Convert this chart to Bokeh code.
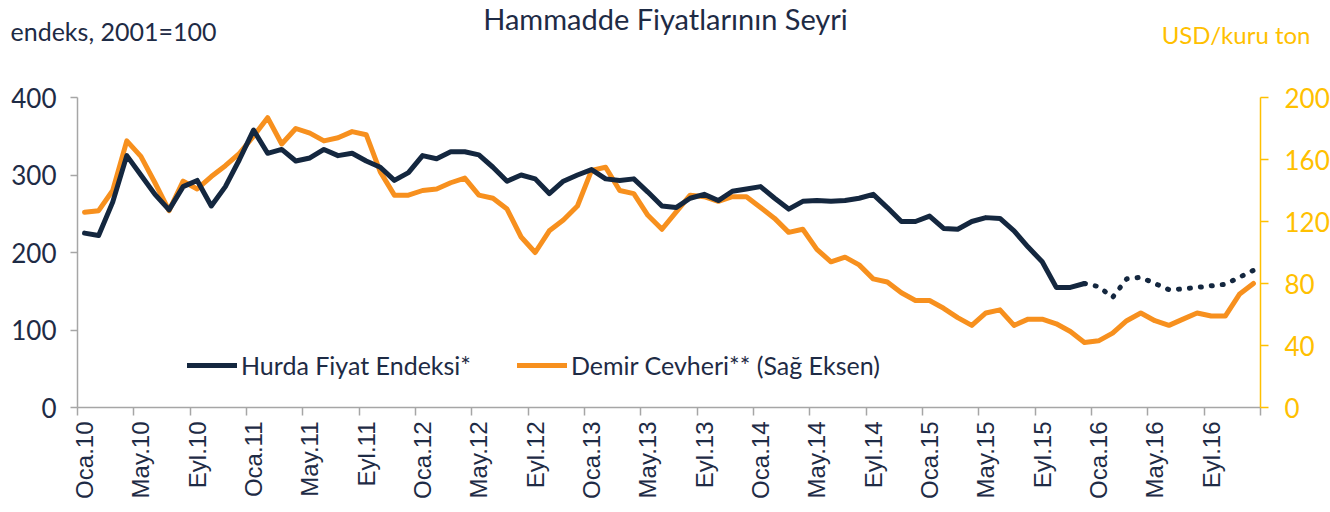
from bokeh.plotting import figure
from bokeh.models import (Range1d, LinearAxis, FixedTicker, Label, Legend, LegendItem,
                          ColumnDataSource)
from bokeh.embed import file_html
from bokeh.resources import INLINE
from math import pi

# ---------------- data ----------------
years = ["10", "11", "12", "13", "14", "15", "16"]
month_names = ["Oca", "Şub", "Mar", "Nis", "May", "Haz", "Tem", "Ağu", "Eyl", "Eki", "Kas", "Ara"]
tick_month_names = ["Oca", "May", "Eyl"]

# Hurda Fiyat Endeksi (left axis, 2001=100), monthly Jan 2010 - Dec 2016
hurda = [
    225, 222, 265, 325, 300, 275, 255, 285, 293, 260, 285, 320,
    358, 328, 333, 318, 322, 333, 325, 328, 318, 310, 293, 303,
    325, 321, 330, 330, 326, 310, 292, 300, 295, 276, 292, 300,
    307, 295, 293, 295, 278, 260, 258, 270, 275, 267, 279, 282,
    285, 270, 256, 266, 267, 266, 267, 270, 275, 258, 240, 240,
    247, 231, 230, 240, 245, 244, 228, 207, 188, 155, 155, 160,
    156, 142, 166, 168, 160, 152, 153, 155, 157, 159, 168, 177,
]
hurda_last_actual = 71  # index of last solid point; dotted afterwards

# Demir Cevheri (right axis, USD/kuru ton)
demir = [
    126, 127, 140, 172, 162, 145, 127, 146, 141, 149, 156, 164,
    175, 187, 170, 180, 177, 172, 174, 178, 176, 152, 137, 137,
    140, 141, 145, 148, 137, 135, 128, 110, 100, 114, 121, 130,
    153, 155, 140, 138, 124, 115, 126, 137, 136, 133, 136, 136,
    129, 122, 113, 115, 102, 94, 97, 92, 83, 81, 74, 69,
    69, 64, 58, 53, 61, 63, 53, 57, 57, 54, 49, 42,
    43, 48, 56, 61, 56, 53, 57, 61, 59, 59, 73, 80,
]

left_ticks = [0, 100, 200, 300, 400]
right_ticks = [0, 40, 80, 120, 160, 200]

# ---------------- styling ----------------
NAVY = "#14273F"
ORANGE = "#F7901E"
GOLD = "#FFC000"
TEXT = "#1E2B45"
GRAY = "#A6A6A6"
FONT = "Lato"

W, H = 1330, 512
# plot-area geometry (pixels) used to set the view ranges
AX_L, AX_R, AX_T, AX_B = 77, 1260, 97, 407

months = [f"{m}.{y}" for y in years for m in month_names]
n = len(months)
x = list(range(n))

ppm = (AX_R - AX_L) / n                 # pixels per month
x0 = AX_L + 0.5 * ppm                   # pixel of first month
xr = Range1d(-x0 / ppm, (W - x0) / ppm)
ppl = (AX_B - AX_T) / left_ticks[-1]
yr = Range1d(-(H - AX_B) / ppl, AX_B / ppl)
ppr = (AX_B - AX_T) / right_ticks[-1]
yr2 = Range1d(-(H - AX_B) / ppr, AX_B / ppr)

p = figure(width=W, height=H, output_backend="svg", toolbar_location=None,
           x_range=xr, y_range=yr, x_axis_location=None, y_axis_location=None,
           min_border=0)
p.extra_y_ranges = {"right": yr2}
p.outline_line_color = None
p.title.visible = False
p.background_fill_color = "white"
p.border_fill_color = "white"
p.xgrid.visible = False
p.ygrid.visible = False

# x axis
xt_pos = [i for i, m in enumerate(months) if m.split(".")[0] in tick_month_names]
xax = LinearAxis(fixed_location=0, bounds=(-0.5, n - 0.5),
                 ticker=FixedTicker(ticks=xt_pos, minor_ticks=[i - 0.5 for i in range(0, n + 1, 4)]))
xax.major_label_overrides = {i: months[i] for i in xt_pos}
xax.major_label_orientation = pi / 2
xax.major_tick_out = 0
xax.major_tick_in = 0
xax.minor_tick_out = 8
xax.minor_tick_in = 0
xax.minor_tick_line_color = GRAY
xax.minor_tick_line_width = 1.5
xax.axis_line_color = GRAY
xax.axis_line_width = 1.5
xax.major_label_text_font = "Liberation Sans"
xax.major_label_text_font_size = "24px"
xax.major_label_text_color = TEXT
xax.major_label_standoff = 6
p.add_layout(xax, "below")

# left axis
yax = LinearAxis(fixed_location=-0.5, bounds=(0, left_ticks[-1]), ticker=FixedTicker(ticks=left_ticks))
yax.minor_tick_line_color = None
yax.major_tick_out = 7
yax.major_tick_in = 0
yax.major_tick_line_color = GRAY
yax.major_tick_line_width = 1.5
yax.axis_line_color = GRAY
yax.axis_line_width = 1.5
yax.major_label_text_font = FONT
yax.major_label_text_font_size = "26px"
yax.major_label_text_color = TEXT
yax.major_label_standoff = 14
p.add_layout(yax, "left")

# right axis
rax = LinearAxis(y_range_name="right", fixed_location=n - 0.5, bounds=(0, right_ticks[-1]),
                 ticker=FixedTicker(ticks=right_ticks))
rax.minor_tick_line_color = None
rax.major_tick_out = 8
rax.major_tick_in = 0
rax.major_tick_line_color = GOLD
rax.major_tick_line_width = 1.5
rax.axis_line_color = GOLD
rax.axis_line_width = 1.5
rax.major_label_text_font = FONT
rax.major_label_text_font_size = "26px"
rax.major_label_text_color = GOLD
rax.major_label_standoff = 16
p.add_layout(rax, "right")

# lines
src_h = ColumnDataSource(dict(x=x[:hurda_last_actual + 1], y=hurda[:hurda_last_actual + 1]))
src_hf = ColumnDataSource(dict(x=x[hurda_last_actual:], y=hurda[hurda_last_actual:]))
src_d = ColumnDataSource(dict(x=x, y=demir))

r_d = p.line("x", "y", source=src_d, y_range_name="right", line_color=ORANGE, line_width=5,
             line_join="round", line_cap="round")
r_h = p.line("x", "y", source=src_h, line_color=NAVY, line_width=5, line_join="round", line_cap="round")
r_hf = p.line("x", "y", source=src_hf, line_color=NAVY, line_width=5, line_dash="1 10",
              line_cap="round")

legend = Legend(items=[LegendItem(label="Hurda Fiyat Endeksi*", renderers=[r_h]),
                       LegendItem(label="Demir Cevheri** (Sağ Eksen)", renderers=[r_d])],
                orientation="horizontal", location=(187, 132), padding=0, margin=0,
                spacing=46, label_standoff=4, glyph_width=50, glyph_height=24, label_height=24,
                border_line_color=None, background_fill_alpha=0)
legend.label_text_font = FONT
legend.label_text_font_size = "25px"
legend.label_text_color = TEXT
p.add_layout(legend, "center")

# titles (positions in pixels converted to data units)
def px_x(px):
    return (px - x0) / ppm

def px_y(px):
    return (AX_B - px) / ppl

p.add_layout(Label(x=px_x(665), y=px_y(18), text="Hammadde Fiyatlarının Seyri", text_align="center",
                   text_baseline="middle", text_font=FONT, text_font_size="29px", text_color=TEXT))
p.add_layout(Label(x=px_x(10), y=px_y(30), text="endeks, 2001=100", text_align="left",
                   text_baseline="middle", text_font=FONT, text_font_size="25px", text_color=TEXT))
p.add_layout(Label(x=px_x(1310), y=px_y(34), text="USD/kuru ton", text_align="right",
                   text_baseline="middle", text_font=FONT, text_font_size="24px", text_color=GOLD))

open("out.html", "w").write(file_html(p, INLINE))
